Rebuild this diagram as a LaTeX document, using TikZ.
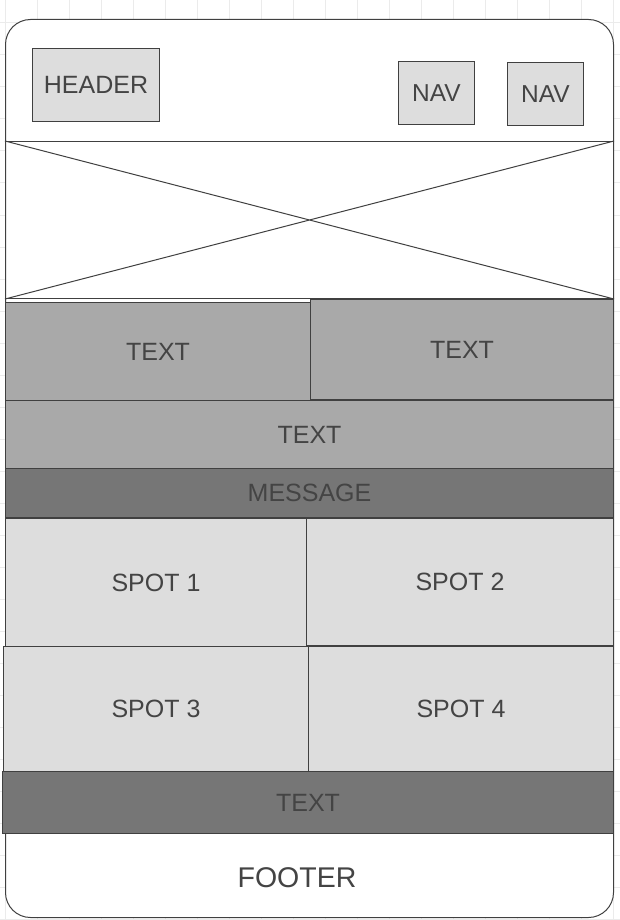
\documentclass[tikz,border=0pt]{standalone}
\usepackage{fontspec}
\setmainfont{Liberation Sans}
\usetikzlibrary{positioning}

\definecolor{lineg}{HTML}{404040}
\definecolor{txtg}{HTML}{444444}
\definecolor{lightbox}{HTML}{DDDDDD}
\definecolor{midbox}{HTML}{A9A9A9}
\definecolor{darkbox}{HTML}{767676}
\definecolor{gridg}{HTML}{EBEBEB}

\begin{document}
\begin{tikzpicture}[x=1pt,y=-1pt,line width=1pt,
                    font=\fontsize{25}{25}\selectfont]
  \tikzstyle{panel}=[draw=lineg,text=txtg,inner sep=0pt,anchor=north west]
  \tikzstyle{light}=[panel,fill=lightbox]
  \tikzstyle{mid}=[panel,fill=midbox]
  \tikzstyle{dark}=[panel,fill=darkbox]

  \useasboundingbox (0,0) rectangle (620,920);

  % background grid
  \foreach \gx in {5,37,...,620} \draw[gridg] (\gx,0) -- (\gx,920);
  \foreach \gy in {23,55,...,920} \draw[gridg] (0,\gy) -- (620,\gy);

  % page frame
  \node[panel,fill=white,rounded corners=25pt,minimum width=608,minimum height=898]
        (frame) at (5,19) {};

  % header
  \node[light,minimum width=127,minimum height=73] (header) at (32,48) {HEADER};
  \node[light,minimum width=76,minimum height=63,font=\fontsize{24.5}{24.5}\selectfont]
        (navA) at (398,61) {NAV};
  \node[light,minimum width=76,minimum height=63,font=\fontsize{24.5}{24.5}\selectfont]
        (navB) at (507,62) {NAV};

  % banner image
  \node[panel,minimum width=608,minimum height=157] (banner) at (5,141) {};
  \draw[lineg] (banner.north west) -- (banner.south east)
               (banner.south west) -- (banner.north east);

  % text blocks
  \node[mid,minimum width=305,minimum height=98]  (textA) at (5,302)   {TEXT};
  \node[mid,minimum width=303,minimum height=100] (textB) at (310,299) {TEXT};
  \node[mid,minimum width=608,minimum height=68]  (textC) at (5,400)   {TEXT};
  \node[dark,minimum width=608,minimum height=49] (message) at (5,468) {MESSAGE};

  % spots
  \node[light,minimum width=301,minimum height=128] (spotA) at (5,518)   {SPOT 1};
  \node[light,minimum width=307,minimum height=127] (spotB) at (306,518) {SPOT 2};
  \node[light,minimum width=305,minimum height=125] (spotC) at (3,646)   {SPOT 3};
  \node[light,minimum width=305,minimum height=125] (spotD) at (308,646) {SPOT 4};

  % bottom band and footer
  \node[dark,minimum width=611,minimum height=62] (textD) at (2,771) {TEXT};
  \node[text=txtg,anchor=center,font=\fontsize{28.5}{28.5}\selectfont]
        (footer) at (297,878) {FOOTER};
\end{tikzpicture}
\end{document}
